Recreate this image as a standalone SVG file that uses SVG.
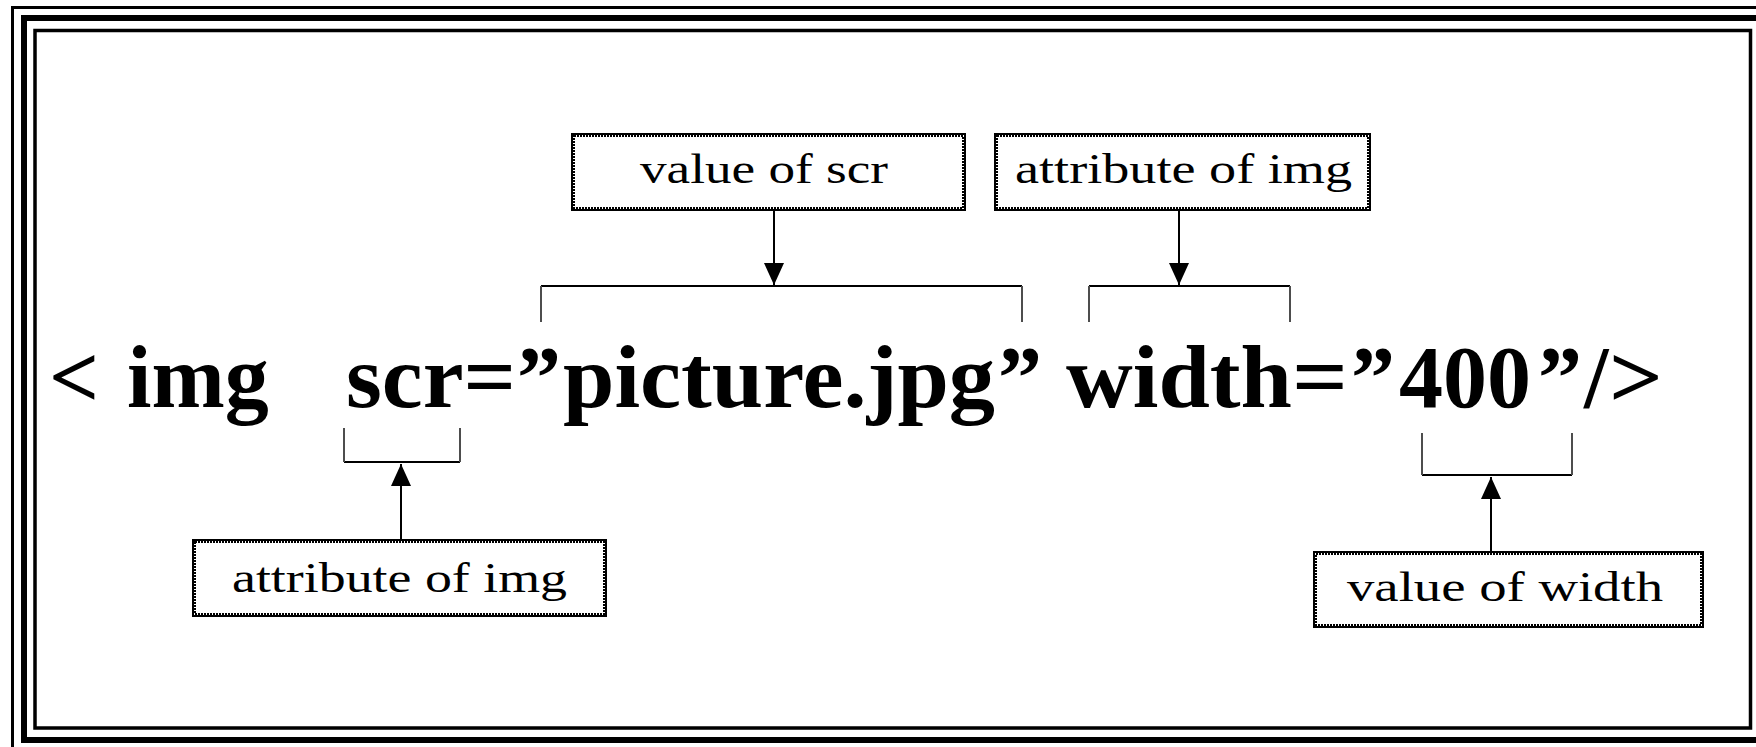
<svg xmlns="http://www.w3.org/2000/svg" width="1756" height="747" viewBox="0 0 1756 747">
<style>
.frame{fill:none;stroke:#000}
.box-solid{fill:#fff;stroke:#000;stroke-width:2}
.box-dot{fill:none;stroke:#000;stroke-width:2;stroke-dasharray:2 1}
.lbl{font-family:"Liberation Serif","Times New Roman",serif;font-size:42px;fill:#000}
.code{font-family:"Liberation Serif","Times New Roman",serif;font-size:88px;font-weight:bold;fill:#000}
.br-h{fill:none;stroke:#000;stroke-width:2}
.br-v{fill:none;stroke:#4d4d4d;stroke-width:2}
.arrow{fill:none;stroke:#000;stroke-width:2;marker-end:url(#ah)}
</style>
<defs>
<marker id="ah" viewBox="0 0 22 22" refX="22" refY="11" markerWidth="22" markerHeight="22" markerUnits="userSpaceOnUse" orient="auto">
<path d="M0,1 L22,11 L0,21 z" fill="#000"/>
</marker>
</defs>
<rect width="1756" height="747" fill="#fff"/>
<g id="frame">
<path class="frame" d="M12.5,747 V7.5 H1756" stroke-width="3"/>
<path class="frame" d="M1756,18 H24 V740 H1756" stroke-width="6"/>
<rect class="frame" x="35" y="30.5" width="1715.5" height="697.5" stroke-width="3.5"/>
</g>
<g id="code">
<text class="code" y="407"><tspan x="49">&lt;</tspan><tspan x="127">img</tspan><tspan x="346" textLength="170" lengthAdjust="spacingAndGlyphs">scr=</tspan><tspan x="517">”</tspan><tspan x="563" textLength="432" lengthAdjust="spacingAndGlyphs">picture.jpg</tspan><tspan x="998">”</tspan><tspan x="1066" textLength="226" lengthAdjust="spacingAndGlyphs">width</tspan><tspan x="1292" textLength="56" lengthAdjust="spacingAndGlyphs">=</tspan><tspan x="1351">”</tspan><tspan x="1399">400</tspan><tspan x="1538">”</tspan><tspan x="1584">/</tspan><tspan x="1609" textLength="54" lengthAdjust="spacingAndGlyphs">&gt;</tspan></text>
</g>
<g id="connectors">
<path class="br-h" d="M541,286 H1022"/>
<path class="br-v" d="M541,286 V322 M1022,286 V322"/>
<path class="br-h" d="M1089,286 H1290"/>
<path class="br-v" d="M1089,286 V322 M1290,286 V322"/>
<path class="br-h" d="M344,462 H460"/>
<path class="br-v" d="M344,428 V462 M460,428 V462"/>
<path class="br-h" d="M1422,475 H1572"/>
<path class="br-v" d="M1422,433 V475 M1572,433 V475"/>
<path class="arrow" d="M774,211 V285"/>
<path class="arrow" d="M1179,211 V285"/>
<path class="arrow" d="M401,539 V464"/>
<path class="arrow" d="M1491,551 V477"/>
</g>
<g id="value-of-scr">
<rect class="box-solid" x="572" y="134" width="393" height="76"/>
<rect class="box-dot" x="574" y="136" width="389" height="72"/>
<text class="lbl" x="640" y="183" textLength="248" lengthAdjust="spacingAndGlyphs">value of scr</text>
</g>
<g id="attribute-of-img-top">
<rect class="box-solid" x="995" y="134" width="375" height="76"/>
<rect class="box-dot" x="997" y="136" width="371" height="72"/>
<text class="lbl" x="1015" y="183" textLength="337" lengthAdjust="spacingAndGlyphs">attribute of img</text>
</g>
<g id="attribute-of-img-bottom">
<rect class="box-solid" x="193" y="540" width="413" height="76"/>
<rect class="box-dot" x="195" y="542" width="409" height="72"/>
<text class="lbl" x="232" y="592" textLength="335" lengthAdjust="spacingAndGlyphs">attribute of img</text>
</g>
<g id="value-of-width">
<rect class="box-solid" x="1314" y="552" width="389" height="75"/>
<rect class="box-dot" x="1316" y="554" width="385" height="71"/>
<text class="lbl" x="1347" y="601" textLength="316" lengthAdjust="spacingAndGlyphs">value of width</text>
</g>
</svg>
